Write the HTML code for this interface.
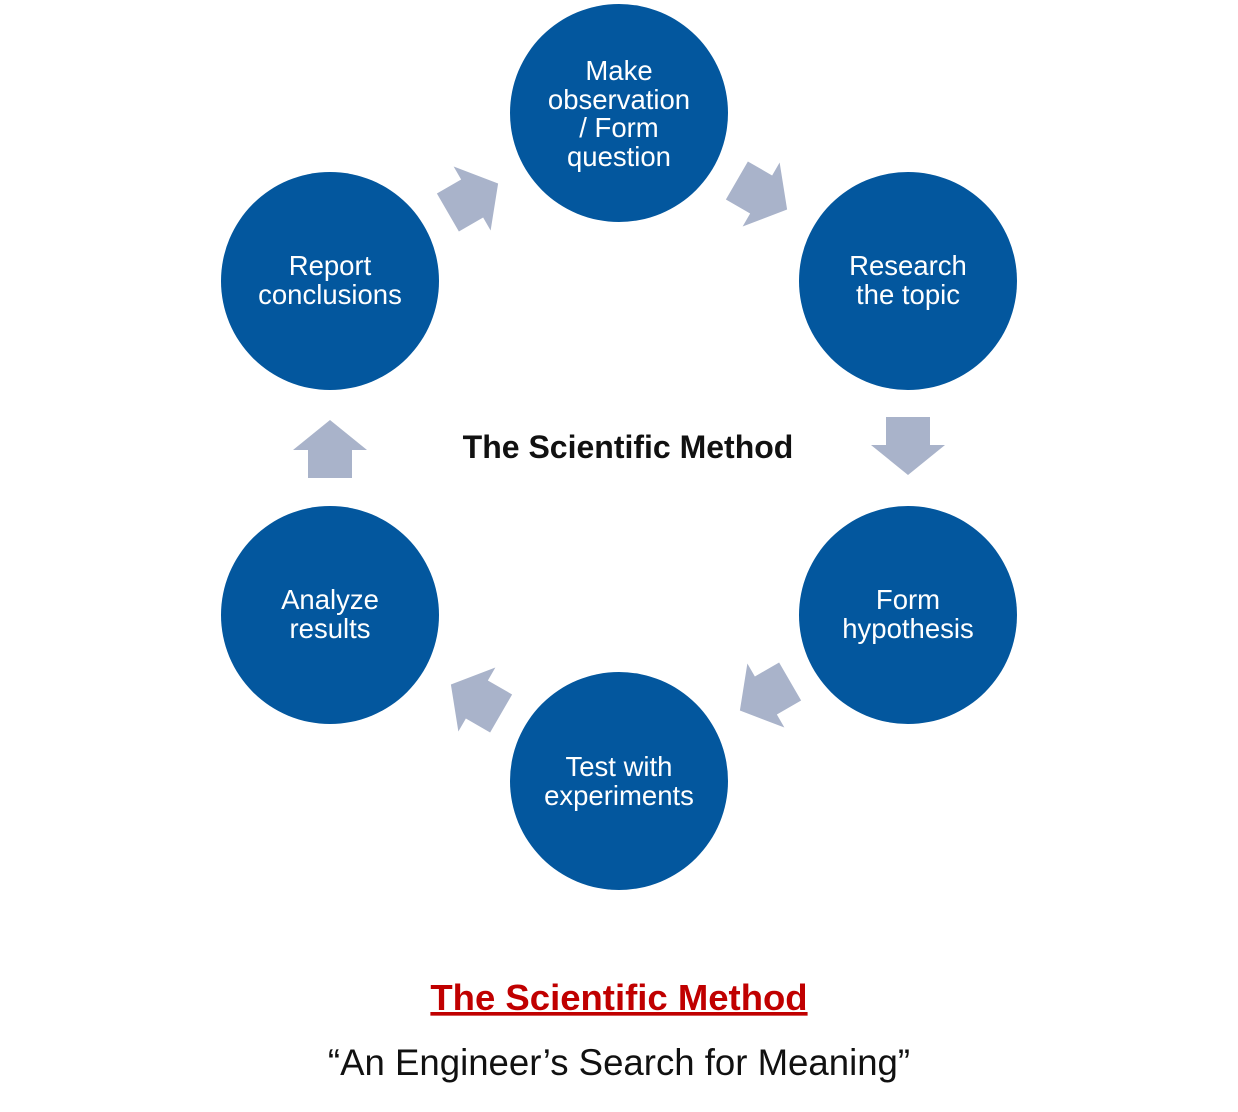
<!DOCTYPE html>
<html><head><style>
body{margin:0;background:#fff;width:1238px;height:1107px;overflow:hidden;font-family:"Liberation Sans",sans-serif}
</style></head><body>
<svg width="1238" height="1107" xmlns="http://www.w3.org/2000/svg" font-family="Liberation Sans, sans-serif">
<defs><polygon id="a" points="-22,-29 22,-29 22,-1 37,-1 0,29 -37,-1 -22,-1" fill="#a9b3ca"/></defs>
<g fill="#03579e">
<circle cx="619" cy="113" r="109"/><circle cx="908" cy="281" r="109"/><circle cx="908" cy="615" r="109"/>
<circle cx="619" cy="781" r="109"/><circle cx="330" cy="615" r="109"/><circle cx="330" cy="281" r="109"/>
</g>
<use href="#a" transform="translate(908,446)"/>
<use href="#a" transform="translate(330,449) rotate(180)"/>
<use href="#a" transform="translate(762,195) rotate(-60)"/>
<use href="#a" transform="translate(473,198) rotate(-120)"/>
<use href="#a" transform="translate(765,696) rotate(60)"/>
<use href="#a" transform="translate(476,699) rotate(120)"/>
<g fill="#fff" font-size="27.5" text-anchor="middle">
<text x="619" y="80">Make</text><text x="619" y="109">observation</text><text x="619" y="137">/ Form</text><text x="619" y="166">question</text>
<text x="908" y="275">Research</text><text x="908" y="304">the topic</text>
<text x="908" y="609">Form</text><text x="908" y="638">hypothesis</text>
<text x="619" y="776">Test with</text><text x="619" y="805">experiments</text>
<text x="330" y="609">Analyze</text><text x="330" y="638">results</text>
<text x="330" y="275">Report</text><text x="330" y="304">conclusions</text>
</g>
<text x="628" y="458" font-size="32" font-weight="bold" text-anchor="middle" fill="#111">The Scientific Method</text>
<text x="619" y="1010" font-size="36.5" font-weight="bold" text-anchor="middle" fill="#c00000" text-decoration="underline">The Scientific Method</text>
<text x="619" y="1075" font-size="36.6" text-anchor="middle" fill="#111">“An Engineer’s Search for Meaning”</text>
</svg>
</body></html>
